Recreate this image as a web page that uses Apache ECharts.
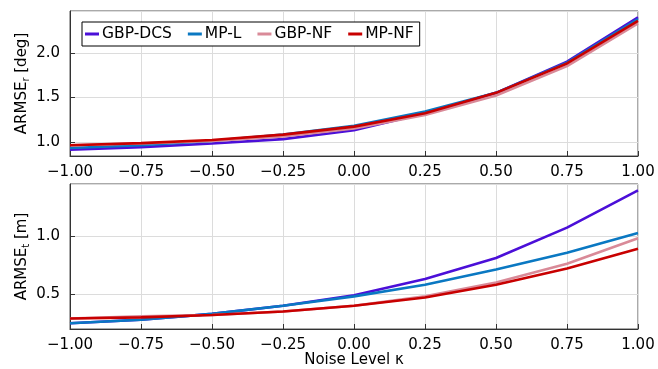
<!DOCTYPE html>
<html>
<head>
<meta charset="utf-8">
<script src="https://cdn.jsdelivr.net/npm/echarts@6/dist/echarts.min.js"></script>
<style>
  html, body { margin: 0; padding: 0; background: #fff; }
  #chart { width: 658px; height: 369px; }
</style>
</head>
<body>
<div id="chart"></div>
<script>
  // noise level on the x axis
  var kappa = [-1, -0.75, -0.5, -0.25, 0, 0.25, 0.5, 0.75, 1];

  // rotation error [deg]
  var rotGbpDcs = [0.91, 0.94, 0.98, 1.03, 1.13, 1.32, 1.55, 1.90, 2.40];
  var rotMpL    = [0.93, 0.96, 1.01, 1.08, 1.18, 1.34, 1.55, 1.89, 2.38];
  var rotGbpNf  = [0.96, 0.98, 1.01, 1.06, 1.15, 1.30, 1.52, 1.85, 2.33];
  var rotMpNf   = [0.96, 0.985, 1.02, 1.08, 1.17, 1.32, 1.55, 1.88, 2.36];

  // translation error [m]
  var trGbpDcs = [0.25, 0.28, 0.33, 0.40, 0.49, 0.63, 0.81, 1.07, 1.39];
  var trMpL    = [0.25, 0.28, 0.33, 0.40, 0.48, 0.58, 0.71, 0.855, 1.025];
  var trGbpNf  = [0.29, 0.31, 0.32, 0.35, 0.40, 0.48, 0.60, 0.76, 0.98];
  var trMpNf   = [0.29, 0.30, 0.32, 0.35, 0.40, 0.47, 0.58, 0.72, 0.89];

  var names = ['GBP-DCS', 'MP-L', 'GBP-NF', 'MP-NF'];
  var colors = ['#4b0fd8', '#0a78c2', '#d98a98', '#c80000'];

  var FONT = 'DejaVu Sans';

  function pairs(ys) {
    return kappa.map(function (x, i) { return [x, ys[i]]; });
  }

  function xAxisFor(idx, withName) {
    return {
      type: 'value', gridIndex: idx, min: -1, max: 1, interval: 0.25,
      name: withName ? 'Noise Level \u03BA' : '',
      nameLocation: 'middle', nameGap: 24, nameMoveOverlap: false,
      nameTextStyle: { fontFamily: FONT, fontSize: 15, color: '#000' },
      axisLine: { show: true, onZero: false, lineStyle: { color: '#333', width: 1 } },
      axisTick: { show: true, inside: true, length: 5, lineStyle: { color: '#333' } },
      axisLabel: {
        fontFamily: FONT, fontSize: 15, color: '#000', margin: 9,
        formatter: function (v) { return v.toFixed(2).replace('-', '\u2212'); }
      },
      splitLine: { show: true, lineStyle: { color: '#dcdcdc', width: 1 } }
    };
  }

  function yAxisFor(idx, lo, hi, sub, unit) {
    return {
      type: 'value', gridIndex: idx, min: lo, max: hi, splitNumber: 3,
      name: '{a|ARMSE}{s|' + sub + '}{a| ' + unit + '}',
      nameLocation: 'middle', nameGap: 39, nameRotate: 90, nameMoveOverlap: false,
      nameTextStyle: {
        rich: {
          a: { fontFamily: FONT, fontSize: 15, color: '#000', lineHeight: 18 },
          s: { fontFamily: FONT, fontSize: 10, color: '#000', verticalAlign: 'bottom', lineHeight: 18 }
        }
      },
      axisLine: { show: true, onZero: false, lineStyle: { color: '#333', width: 1 } },
      axisTick: { show: true, inside: true, length: 5, lineStyle: { color: '#333' } },
      axisLabel: {
        fontFamily: FONT, fontSize: 15, color: '#000', margin: 10,
        showMinLabel: false, showMaxLabel: false,
        formatter: function (v) { return v.toFixed(1); }
      },
      splitLine: { show: true, lineStyle: { color: '#dcdcdc', width: 1 } }
    };
  }

  var rotSets = [rotGbpDcs, rotMpL, rotGbpNf, rotMpNf];
  var trSets = [trGbpDcs, trMpL, trGbpNf, trMpNf];

  var series = [];
  rotSets.forEach(function (d, i) {
    series.push({
      name: names[i], type: 'line', xAxisIndex: 0, yAxisIndex: 0,
      data: pairs(d), showSymbol: false, symbol: 'none',
      lineStyle: { width: 2.6, color: colors[i] }, itemStyle: { color: colors[i] }
    });
  });
  trSets.forEach(function (d, i) {
    series.push({
      name: names[i], type: 'line', xAxisIndex: 1, yAxisIndex: 1,
      data: pairs(d), showSymbol: false, symbol: 'none',
      lineStyle: { width: 2.6, color: colors[i] }, itemStyle: { color: colors[i] }
    });
  });

  var chart = echarts.init(document.getElementById('chart'), null, { renderer: 'canvas' });
  chart.setOption({
    animation: false,
    backgroundColor: '#fff',
    legend: {
      data: names, left: 82, top: 22,
      orient: 'horizontal',
      icon: 'rect', itemWidth: 14, itemHeight: 3, itemGap: 16,
      padding: [4, 6, 4, 3],
      borderColor: '#000', borderWidth: 1, borderRadius: 0,
      backgroundColor: '#fff',
      textStyle: { fontFamily: FONT, fontSize: 15.5, color: '#000', padding: [0, 0, 0, -2] }
    },
    grid: [
      { left: 70, right: 20, top: 11, height: 145, show: true, borderColor: '#555', borderWidth: 1 },
      { left: 70, right: 20, top: 184, height: 146, show: true, borderColor: '#555', borderWidth: 1 }
    ],
    xAxis: [xAxisFor(0, false), xAxisFor(1, true)],
    yAxis: [
      yAxisFor(0, 0.84, 2.47, 'r', '[deg]'),
      yAxisFor(1, 0.2, 1.445, 't', '[m]')
    ],
    series: series
  });
</script>
</body>
</html>
